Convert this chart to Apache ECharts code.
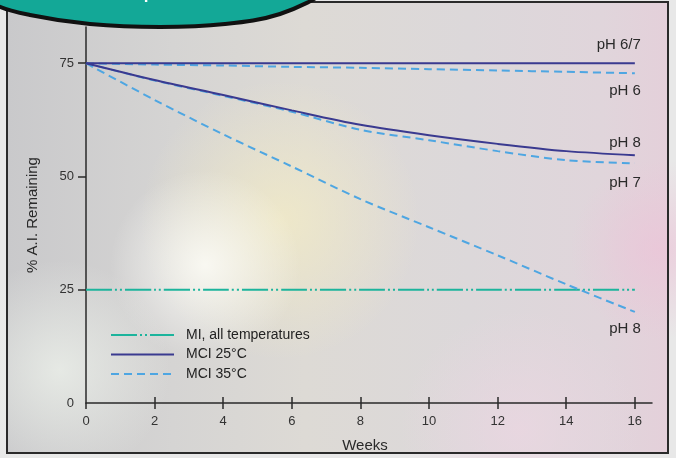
<!DOCTYPE html>
<html>
<head>
<meta charset="utf-8">
<script src="https://cdn.jsdelivr.net/npm/echarts@6.0.0/dist/echarts.min.js"></script>
<style>
html,body{margin:0;padding:0;background:#e6e6e6;}
#chart{width:676px;height:458px;}
</style>
</head>
<body>
<div id="chart"></div>
<script>
// ---- data ----
const weeks = [0, 2, 4, 6, 8, 10, 12, 14, 16];
const xTicks = [0, 2, 4, 6, 8, 10, 12, 14, 16];
const yTicks = [0, 25, 50, 75];
const yTickMarks = [25, 50, 75];
const miAllTemps = [25, 25, 25, 25, 25, 25, 25, 25, 25];
const mci25_pH67 = [75, 75, 75, 75, 75, 75, 75, 75, 75];
const mci25_pH8  = [75, 71.3, 68.0, 64.6, 61.4, 59.1, 57.2, 55.6, 54.7];
const mci35_pH6  = [75, 74.7, 74.5, 74.2, 74.0, 73.7, 73.4, 73.1, 72.8];
const mci35_pH7  = [75, 71.2, 67.8, 64.3, 60.3, 58.0, 55.6, 53.6, 52.9];
const mci35_pH8  = [75, 66.9, 59.3, 52.2, 45.0, 38.8, 32.6, 26.2, 20.1];
const legendNames = ['MI, all temperatures', 'MCI 25\u00B0C', 'MCI 35\u00B0C'];

const FONT = "'Liberation Sans', Arial, Helvetica, sans-serif";
const pairs = arr => weeks.map((w, i) => [w, arr[i]]);

const TEAL = '#1cb49c';
const NAVY = '#3a3a90';
const SKY = '#4ea6e2';

function lineSeries(name, data, color, type, width, label, off) {
  return {
    type: 'line', name: name, data: pairs(data),
    xAxisIndex: 0, yAxisIndex: 0,
    symbol: 'none', smooth: 0.3, z: name === legendNames[1] ? 4 : 3,
    lineStyle: { color: color, width: width, type: type },
    itemStyle: { color: color },
    emphasis: { disabled: true },
    endLabel: label ? {
      show: true, formatter: label, distance: 0, align: 'right',
      offset: off, color: '#2a2a2a', fontSize: 15, fontFamily: FONT
    } : { show: false }
  };
}

const chart = echarts.init(document.getElementById('chart'), null, { renderer: 'canvas' });

const option = {
  animation: false,
  backgroundColor: '#e8e8e8',
  textStyle: { fontFamily: FONT },
  graphic: [
    { type: 'rect', z: -20, silent: true, shape: { x: 7, y: 2, width: 661, height: 451 },
      style: { fill: new echarts.graphic.LinearGradient(0, 0, 1, 0, [
        { offset: 0, color: '#c9c9cb' }, { offset: 0.25, color: '#d5d4d3' },
        { offset: 0.45, color: '#dddad5' }, { offset: 0.7, color: '#dcd8da' },
        { offset: 0.9, color: '#e0d5db' }, { offset: 1, color: '#e4d0da' }]) } },
    { type: 'circle', z: -19, silent: true, shape: { cx: 280, cy: 220, r: 140 },
      style: { fill: new echarts.graphic.RadialGradient(0.5, 0.5, 0.5, [
        { offset: 0, color: 'rgba(246,238,196,0.7)' }, { offset: 1, color: 'rgba(246,238,196,0)' }]) } },
    { type: 'circle', z: -19, silent: true, shape: { cx: 205, cy: 265, r: 95 },
      style: { fill: new echarts.graphic.RadialGradient(0.5, 0.5, 0.5, [
        { offset: 0, color: 'rgba(255,255,250,0.8)' }, { offset: 1, color: 'rgba(255,255,250,0)' }]) } },
    { type: 'circle', z: -19, silent: true, shape: { cx: 60, cy: 370, r: 110 },
      style: { fill: new echarts.graphic.RadialGradient(0.5, 0.5, 0.5, [
        { offset: 0, color: 'rgba(236,240,234,0.8)' }, { offset: 1, color: 'rgba(236,240,234,0)' }]) } },
    { type: 'circle', z: -19, silent: true, shape: { cx: 660, cy: 250, r: 90 },
      style: { fill: new echarts.graphic.RadialGradient(0.5, 0.5, 0.5, [
        { offset: 0, color: 'rgba(236,196,216,0.7)' }, { offset: 1, color: 'rgba(236,196,216,0)' }]) } },
    { type: 'circle', z: -19, silent: true, shape: { cx: 520, cy: 430, r: 120 },
      style: { fill: new echarts.graphic.RadialGradient(0.5, 0.5, 0.5, [
        { offset: 0, color: 'rgba(236,214,226,0.7)' }, { offset: 1, color: 'rgba(236,214,226,0)' }]) } },
    { type: 'rect', z: 50, silent: true, shape: { x: 7, y: 2, width: 661, height: 451 },
      style: { fill: 'none', stroke: '#2a2a2a', lineWidth: 2 } },
    { type: 'polygon', z: 60, silent: true,
      shape: { points: [[-6, -6], [-6, 4], [30, 15], [90, 24], [160, 27], [225, 24], [280, 14], [316, -6]], smooth: 0.35 },
      style: { fill: '#13a897', stroke: '#111', lineWidth: 4 } },
    { type: 'text', z: 61, silent: true, x: 150, y: -14,
      style: { text: 'and temperatures', fill: '#ffffff', font: "bold 17px 'Liberation Sans', Arial, sans-serif", align: 'center' } }
  ],
  grid: { left: 86, right: 24, top: 27, bottom: 55, containLabel: false },
  legend: {
    orient: 'vertical', left: 110, top: 328, padding: 0, itemWidth: 63, itemHeight: 14, itemGap: 5.5,
    data: legendNames, selectedMode: false,
    itemStyle: { opacity: 0 },
    textStyle: { color: '#222', fontSize: 14, fontFamily: FONT, padding: [0, 0, 0, 7] }
  },
  xAxis: [{
    type: 'value', min: 0, max: 16.5,
    name: 'Weeks', nameLocation: 'middle', nameGap: 35,
    nameTextStyle: { color: '#2a2a2a', fontSize: 15, fontFamily: FONT, padding: [0, 8, 0, 0] },
    axisLine: { show: true, lineStyle: { color: '#2a2a2a', width: 1.5 } },
    axisTick: { show: true, length: 6, customValues: xTicks, lineStyle: { color: '#2a2a2a', width: 1.5 } },
    axisLabel: { color: '#333', fontSize: 13, fontFamily: FONT, margin: 12, customValues: xTicks },
    splitLine: { show: false }
  }, {
    type: 'value', min: 0, max: 16.5, position: 'bottom',
    axisLine: { show: false },
    axisTick: { show: true, inside: true, length: 6, customValues: xTicks.slice(1), lineStyle: { color: '#2a2a2a', width: 1.5 } },
    axisLabel: { show: false }, splitLine: { show: false }
  }],
  yAxis: [{
    type: 'value', min: 0, max: 83,
    name: '% A.I. Remaining', nameLocation: 'middle', nameGap: 46,
    nameTextStyle: { color: '#2a2a2a', fontSize: 15, fontFamily: FONT },
    axisLine: { show: true, lineStyle: { color: '#2a2a2a', width: 1.5 } },
    axisTick: { show: true, length: 8, customValues: yTickMarks, lineStyle: { color: '#2a2a2a', width: 1.5 } },
    axisLabel: { color: '#333', fontSize: 13, fontFamily: FONT, margin: 12, customValues: yTicks },
    splitLine: { show: false }
  }],
  series: [
    lineSeries(legendNames[0], miAllTemps, TEAL, [26, 3, 2, 3, 2, 3], 2.2, null),
    lineSeries(legendNames[1], mci25_pH67, NAVY, 'solid', 2, 'pH 6/7', [6, -18]),
    lineSeries(legendNames[1], mci25_pH8, NAVY, 'solid', 2, 'pH 8', [6, -12]),
    lineSeries(legendNames[2], mci35_pH6, SKY, [8, 5], 2, 'pH 6', [6, 18]),
    lineSeries(legendNames[2], mci35_pH7, SKY, [8, 5], 2, 'pH 7', [6, 20]),
    lineSeries(legendNames[2], mci35_pH8, SKY, [8, 5], 2, 'pH 8', [6, 17])
  ]
};
chart.setOption(option);
</script>
</body>
</html>
